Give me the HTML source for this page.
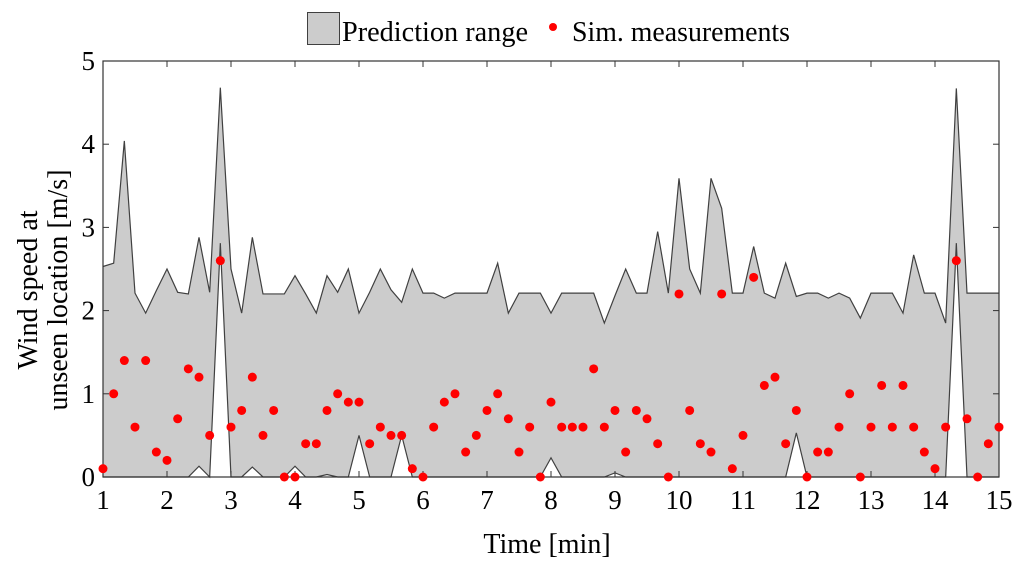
<!DOCTYPE html>
<html><head><meta charset="utf-8"><style>
html,body{margin:0;padding:0;background:#fff;}
svg{display:block;font-family:"Liberation Serif",serif;}
</style></head><body>
<svg id="chart" width="1024" height="569" viewBox="0 0 1024 569" xmlns="http://www.w3.org/2000/svg">
  <g>
    <rect x="307.5" y="12.5" width="32" height="32" fill="#cccccc" stroke="#404040" stroke-width="1"/>
    <text x="342" y="41" font-size="28" textLength="186" lengthAdjust="spacingAndGlyphs">Prediction range</text>
    <circle cx="553" cy="27" r="4" fill="#ff0000"/>
    <text x="572" y="41" font-size="28" textLength="218" lengthAdjust="spacingAndGlyphs">Sim. measurements</text>
  </g>
  <g id="plot"></g>
  <text x="547" y="553" font-size="28" text-anchor="middle">Time [min]</text>
  <g>
    <text transform="translate(37,290) rotate(-90)" font-size="28" text-anchor="middle">Wind speed at</text>
    <text transform="translate(67,290) rotate(-90)" font-size="28" text-anchor="middle">unseen location [m/s]</text>
  </g>
</svg>
<script>
const measurements = [0.1,1.0,1.4,0.6,1.4,0.3,0.2,0.7,1.3,1.2,
0.5,2.6,0.6,0.8,1.2,0.5,0.8,0,0,0.4,
0.4,0.8,1.0,0.9,0.9,0.4,0.6,0.5,0.5,0.1,
0,0.6,0.9,1.0,0.3,0.5,0.8,1.0,0.7,0.3,
0.6,0,0.9,0.6,0.6,0.6,1.3,0.6,0.8,0.3,
0.8,0.7,0.4,0,2.2,0.8,0.4,0.3,2.2,0.1,
0.5,2.4,1.1,1.2,0.4,0.8,0,0.3,0.3,0.6,
1.0,0,0.6,1.1,0.6,1.1,0.6,0.3,0.1,0.6,
2.6,0.7,0,0.4,0.6];
const upperBound = [2.53,2.57,4.04,2.21,1.97,2.24,2.5,2.22,2.2,2.88,
2.22,4.68,2.5,1.97,2.88,2.2,2.2,2.2,2.42,2.2,
1.97,2.42,2.22,2.5,1.97,2.22,2.5,2.25,2.1,2.5,
2.21,2.21,2.15,2.21,2.21,2.21,2.21,2.57,1.97,2.21,
2.21,2.21,1.97,2.21,2.21,2.21,2.21,1.85,2.18,2.5,
2.21,2.21,2.95,2.21,3.59,2.5,2.21,3.59,3.23,2.21,
2.21,2.77,2.21,2.15,2.57,2.17,2.21,2.21,2.15,2.21,
2.15,1.91,2.21,2.21,2.21,1.97,2.67,2.21,2.21,1.85,
4.67,2.21,2.21,2.21,2.21];
const lowerBound = [0,0,0,0,0,0,0,0,0,0.13,
0,2.81,0,0,0.12,0,0,0,0.13,0,
0,0.03,0,0,0.5,0,0,0,0.5,0,
0,0,0,0,0,0,0,0,0,0,
0,0,0.23,0,0,0,0,0,0.05,0,
0,0,0,0,0,0,0,0,0,0,
0,0,0,0,0,0.53,0,0,0,0,
0,0,0,0,0,0,0,0,0,0,
2.81,0,0,0,0];
const xTicks = [1,2,3,4,5,6,7,8,9,10,11,12,13,14,15];
const yTicks = [0,1,2,3,4,5];
const tStart = 1, tStep = 1/6;

const L=103,R=999,T=61,B=477;
const xS = v => L + (v-1)/(15-1)*(R-L);
const yS = v => B - v/5*(B-T);
const NS="http://www.w3.org/2000/svg";
const plot=document.getElementById('plot');
function mk(tag,attrs){const e=document.createElementNS(NS,tag);for(const k in attrs)e.setAttribute(k,attrs[k]);plot.appendChild(e);return e;}

const times = upperBound.map((_,i)=>tStart+i*tStep);
let d = times.map((t,i)=>(i?'L':'M')+xS(t).toFixed(2)+','+yS(upperBound[i]).toFixed(2)).join(' ');
for(let i=times.length-1;i>=0;i--) d+=' L'+xS(times[i]).toFixed(2)+','+yS(lowerBound[i]).toFixed(2);
d+=' Z';
const band=mk('path',{d:d,fill:'#cccccc',stroke:'none'});


const up=mk('path',{d:times.map((t,i)=>(i?'L':'M')+xS(t).toFixed(2)+','+yS(upperBound[i]).toFixed(2)).join(' '),fill:'none',stroke:'#404040','stroke-width':1.2});


const lo=mk('path',{d:times.map((t,i)=>(i?'L':'M')+xS(t).toFixed(2)+','+yS(lowerBound[i]).toFixed(2)).join(' '),fill:'none',stroke:'#404040','stroke-width':1.2});



const box=mk('rect',{x:L,y:T,width:R-L,height:B-T,fill:'none',stroke:'#333','stroke-width':1.2});



xTicks.forEach(v=>{
  const x=xS(v);
  const t1=mk('line',{x1:x,x2:x,y1:B,y2:B-6,stroke:'#333'});
  
  
  const t2=mk('line',{x1:x,x2:x,y1:T,y2:T+6,stroke:'#333'});
  
  
  const lb=mk('text',{x:x,y:B+32,'font-size':27,'text-anchor':'middle'});
  lb.textContent=v;
  
  
});
yTicks.forEach(v=>{
  const y=yS(v);
  const t1=mk('line',{x1:L,x2:L+6,y1:y,y2:y,stroke:'#333'});
  
  
  const t2=mk('line',{x1:R,x2:R-6,y1:y,y2:y,stroke:'#333'});
  
  
  const lb=mk('text',{x:L-8,y:y+9,'font-size':27,'text-anchor':'end'});
  lb.textContent=v;
  
  
});

measurements.forEach((v,i)=>{
  const c=mk('circle',{cx:xS(times[i]),cy:yS(v),r:4.5,fill:'#ff0000'});
  
  
});
</script>
</body></html>
